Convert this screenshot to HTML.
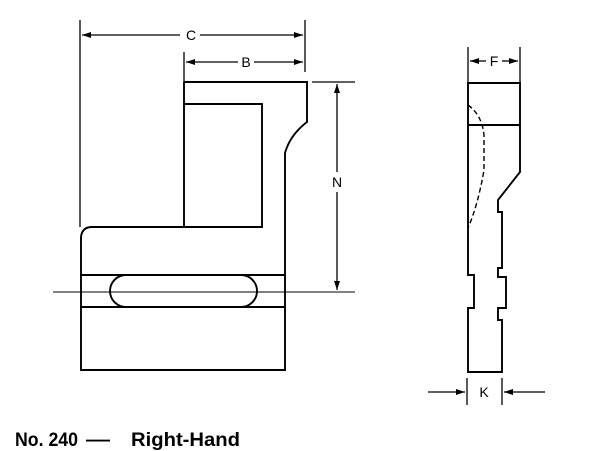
<!DOCTYPE html>
<html><head><style>
html,body{margin:0;padding:0;background:#fff;width:600px;height:451px;overflow:hidden}
svg{display:block}
text{font-family:"Liberation Sans",sans-serif;fill:#000}
</style></head><body>
<svg width="600" height="451" viewBox="0 0 600 451">
<defs>
<marker id="a" markerWidth="10" markerHeight="8" refX="9" refY="4" orient="auto" markerUnits="userSpaceOnUse">
<path d="M0,1 L9,4 L0,7 Z" fill="#000"/></marker>
</defs>
<g stroke="#000" fill="none" stroke-width="1.9">
<line x1="80" y1="20" x2="80" y2="227" stroke-width="1.3"/>
<line x1="305" y1="20" x2="305" y2="72" stroke-width="1.3"/>
<line x1="184" y1="52" x2="184" y2="82" stroke-width="1.3"/>
<line x1="180" y1="35" x2="82" y2="35" marker-end="url(#a)" stroke-width="1.3"/>
<line x1="200" y1="35" x2="303" y2="35" marker-end="url(#a)" stroke-width="1.3"/>
<line x1="238" y1="62" x2="186" y2="62" marker-end="url(#a)" stroke-width="1.3"/>
<line x1="254" y1="62" x2="303" y2="62" marker-end="url(#a)" stroke-width="1.3"/>
<path d="M184,82 L307,82 L307,122 Q290,135 285,153 L285,370 L81,370 L81,237 Q82,227 92,227 L262,227 L262,104 L184,104"/>
<line x1="184" y1="82" x2="184" y2="227"/>
<line x1="81" y1="275" x2="285" y2="275"/>
<line x1="81" y1="307" x2="285" y2="307"/>
<path d="M126,275 L241,275 A16,16 0 0 1 241,307 L126,307 A16,16 0 0 1 126,275 Z"/>
<line x1="53" y1="292" x2="355" y2="292" stroke-width="1.1"/>
<line x1="312" y1="82" x2="355" y2="82" stroke-width="1.3"/>
<line x1="337" y1="172" x2="337" y2="84" marker-end="url(#a)" stroke-width="1.3"/>
<line x1="337" y1="192" x2="337" y2="290" marker-end="url(#a)" stroke-width="1.3"/>
<line x1="468" y1="47" x2="468" y2="83" stroke-width="1.3"/>
<line x1="520" y1="47" x2="520" y2="83" stroke-width="1.3"/>
<line x1="486" y1="61" x2="470" y2="61" marker-end="url(#a)" stroke-width="1.3"/>
<line x1="502" y1="61" x2="518" y2="61" marker-end="url(#a)" stroke-width="1.3"/>
<path d="M468,83 L520,83 L520,172 L498,200 L498,212 L502,212 L502,268 L498,268 L498,277 L506,277 L506,308 L498,308 L498,320 L502,320 L502,372 L468,372 L468,308 L474,308 L474,275 L468,275 Z"/>
<line x1="468" y1="125" x2="520" y2="125"/>
<path d="M468,105 Q482,115 484,135 L484,170 Q478,205 468,228" stroke-dasharray="5,3" stroke-width="1.4"/>
<line x1="467" y1="378" x2="467" y2="405" stroke-width="1.3"/>
<line x1="502" y1="378" x2="502" y2="405" stroke-width="1.3"/>
<line x1="428" y1="392" x2="465" y2="392" marker-end="url(#a)" stroke-width="1.3"/>
<line x1="545" y1="392" x2="504" y2="392" marker-end="url(#a)" stroke-width="1.3"/>
</g>
<g font-size="14" text-anchor="middle">
<text x="191" y="40">C</text>
<text x="246" y="67">B</text>
<text x="337" y="187">N</text>
<text x="494" y="66">F</text>
<text x="484" y="397">K</text>
</g>
<g font-size="19" font-weight="bold">
<text x="15" y="446" textLength="63" lengthAdjust="spacingAndGlyphs">No. 240</text>
<text x="86" y="446" textLength="24" lengthAdjust="spacingAndGlyphs">—</text>
<text x="131" y="446" textLength="109" lengthAdjust="spacingAndGlyphs">Right-Hand</text>
</g>
</svg>
</body></html>
